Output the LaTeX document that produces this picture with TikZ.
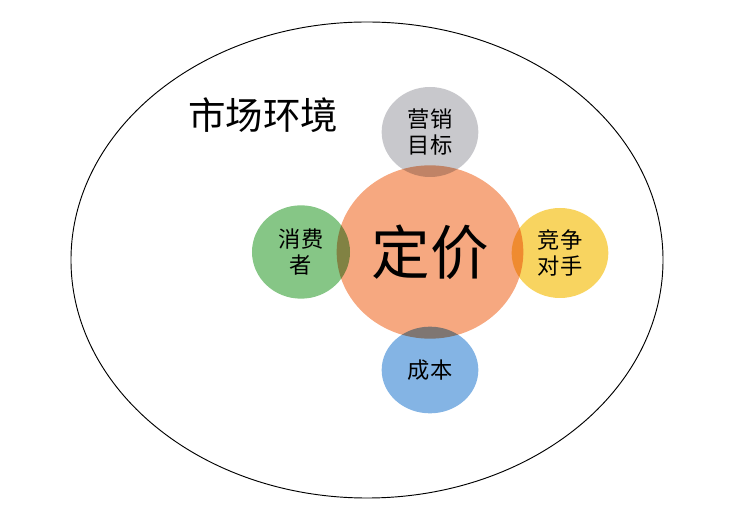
\documentclass[tikz,border=0pt]{standalone}
\usepackage{fontspec}
\setmainfont{Noto Sans CJK SC}
\usepackage{tikz}
\usetikzlibrary{shapes.geometric}

\definecolor{coreorange}{RGB}{246,168,128}
\definecolor{goalgray}{RGB}{200,200,204}
\definecolor{usergreen}{RGB}{134,198,134}
\definecolor{rivalyellow}{RGB}{248,212,96}
\definecolor{costblue}{RGB}{132,180,228}

\tikzset{
  bubble/.style={ellipse,minimum width=2.9cm,minimum height=2.7cm,inner sep=0pt,
    align=center,font=\fontsize{19}{22}\selectfont,blend mode=multiply},
  core/.style={ellipse,fill=coreorange,minimum width=5.6cm,minimum height=5.2cm,
    font=\fontsize{50}{54}\selectfont}
}

\begin{document}
\begin{tikzpicture}[x=0.03cm,y=-0.03cm]
  \useasboundingbox (0,0) rectangle (743,516);
  \node[ellipse,draw,line width=0.8pt,minimum width=17.76cm,minimum height=14.28cm]
    (env) at (367,260) {};
  \node[font=\fontsize{32}{36}\selectfont] (envlabel) at (263,115) {市场环境};
  \node[core] (price) at (430,252) {定价};
  \node[bubble,fill=goalgray] (goal) at (430,132) {营销\\目标};
  \node[bubble,fill=usergreen,minimum width=2.94cm,minimum height=2.8cm] (user) at (301,252) {消费\\者};
  \node[bubble,fill=rivalyellow] (rival) at (560,253) {竞争\\对手};
  \node[bubble,fill=costblue,minimum height=2.6cm] (cost) at (430,370) {成本};
\end{tikzpicture}
\end{document}
